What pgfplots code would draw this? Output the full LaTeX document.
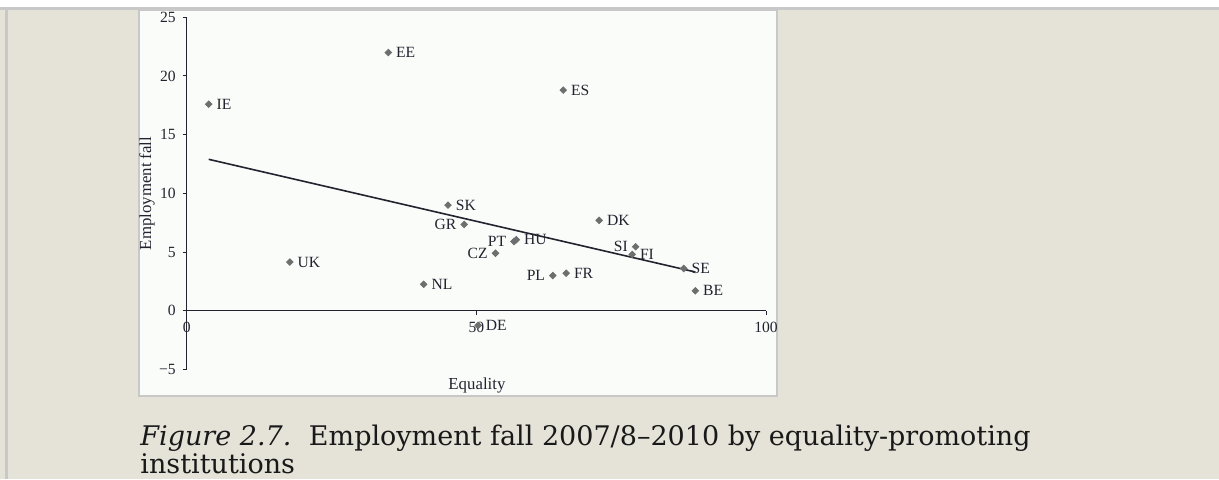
\documentclass[border=0pt]{standalone}
\usepackage{fontspec}
\setmainfont{Liberation Serif}
\newfontfamily\capfont{DejaVu Serif}
\usepackage{pgfplots}
\pgfplotsset{compat=1.18}
\definecolor{page}{HTML}{E5E3D8}
\definecolor{rule}{HTML}{C8C8C8}
\definecolor{boxbg}{HTML}{FAFCFA}
\definecolor{mk}{HTML}{6E6E6E}
\definecolor{ink}{HTML}{23232F}

\begin{document}
\begin{tikzpicture}
% page, 1px = 0.5pt
\fill[page] (0,0) rectangle (609.5pt,239.5pt);
\useasboundingbox (0,0) rectangle (609.5pt,239.5pt);
\fill[white] (0,236pt) rectangle (609.5pt,239.5pt);
\fill[rule] (0,234.5pt) rectangle (609.5pt,236pt);
\fill[rule] (2.5pt,0) rectangle (4pt,234.5pt);
\filldraw[fill=boxbg,draw=rule,line width=1pt] (69.5pt,41.5pt) rectangle (388.5pt,234.5pt);

\begin{axis}[
  at={(93.35pt,54.8pt)}, anchor=south west,
  scale only axis, width=289.65pt, height=176.05pt,
  xmin=0, xmax=100, ymin=-5, ymax=25,
  axis x line=middle, axis y line=left,
  axis line style={-,ink,line width=0.6pt},
  xtick={0,50,100}, xticklabels={0,50,100},
  ytick={-5,0,5,10,15,20,25}, yticklabels={−5,0,5,10,15,20,25},
  hide obscured x ticks=false, hide obscured y ticks=false,
  tick align=outside, major tick length=2pt,
  tick style={ink,line width=0.5pt},
  ticklabel style={font=\fontsize{7.8}{8.5}\selectfont, text=ink},
  xlabel={Equality}, ylabel={Employment fall},
  label style={font=\fontsize{8.4}{9}\selectfont, text=ink},
  xlabel style={at={(axis description cs:0.501,-0.047)}, anchor=center},
  ylabel style={at={(axis description cs:-0.0685,0.5)}, anchor=center},
  clip=false,
]
% fitted line
\addplot[no markers, ink, line width=0.8pt] coordinates {(3.8,12.9) (87.8,3.3)};
% countries labelled on the right
\addplot[only marks, mark=square*, mark size=1.15pt, mark options={rotate=45, fill=mk, draw=mk},
  point meta=explicit symbolic, nodes near coords,
  nodes near coords style={anchor=west, xshift=0.4pt, font=\fontsize{7.8}{8.5}\selectfont, text=ink}]
  coordinates {
  (3.8,17.6) [IE]
  (34.8,22.0) [EE]
  (65.0,18.8) [ES]
  (45.1,9.0) [SK]
  (71.2,7.7) [DK]
  (76.9,4.8) [FI]
  (85.8,3.6) [SE]
  (87.8,1.7) [BE]
  (65.5,3.2) [FR]
  (40.9,2.25) [NL]
  (17.8,4.15) [UK]
  (56.9,6.05) [HU]
  (50.3,-1.25) [DE]
  };
% countries labelled on the left
\addplot[only marks, mark=square*, mark size=1.15pt, mark options={rotate=45, fill=mk, draw=mk},
  point meta=explicit symbolic, nodes near coords,
  nodes near coords style={anchor=east, xshift=-0.4pt, font=\fontsize{7.8}{8.5}\selectfont, text=ink}]
  coordinates {
  (47.9,7.35) [GR]
  (56.5,5.9) [PT]
  (53.3,4.9) [CZ]
  (77.5,5.45) [SI]
  (63.2,3.0) [PL]
  };
\end{axis}

\node[anchor=base west, inner sep=0, font=\capfont\fontsize{13.5}{15.5}\selectfont, text=black!90]
  at (70pt,17pt) {\textit{Figure 2.7.}\hspace{0.65em}Employment fall 2007/8–2010 by equality-promoting};
\node[anchor=base west, inner sep=0, font=\capfont\fontsize{13.5}{15.5}\selectfont, text=black!90]
  at (70pt,2.6pt) {institutions};
\end{tikzpicture}
\end{document}
